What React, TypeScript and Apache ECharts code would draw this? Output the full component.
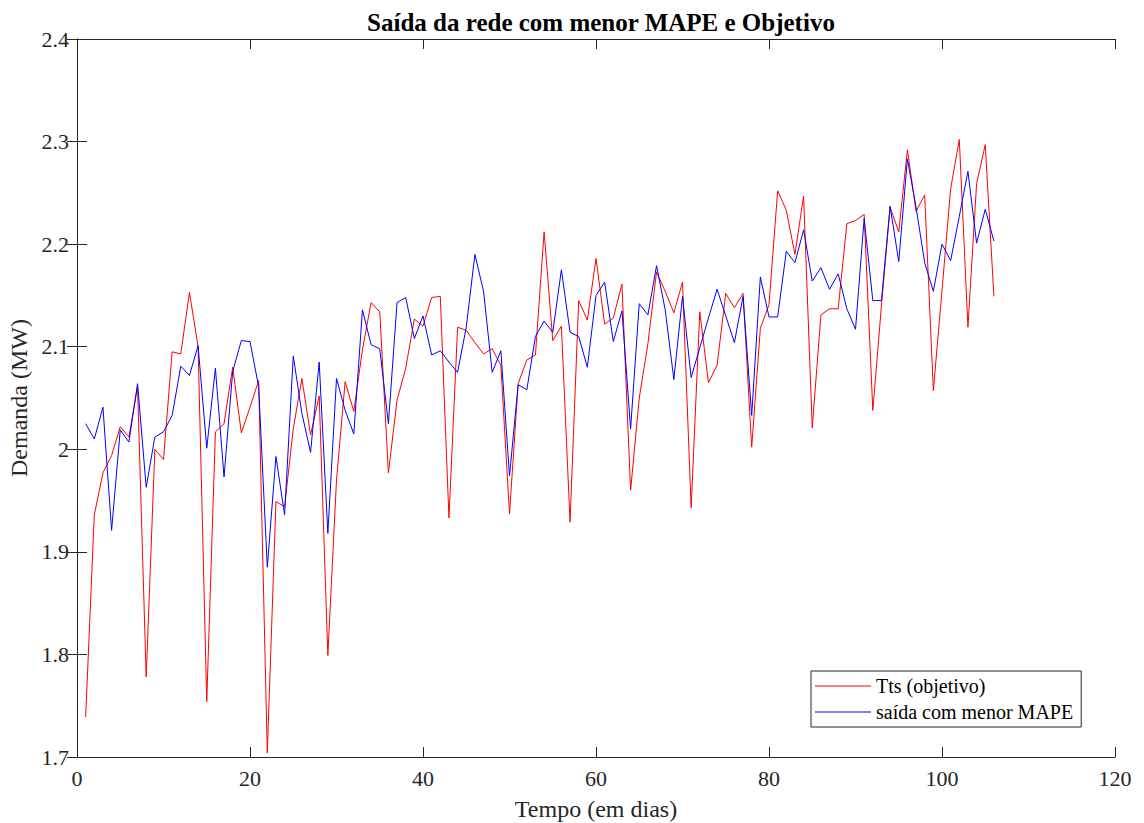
import React, { useEffect, useRef } from "react";
import * as echarts from "echarts";

const days: number[] = Array.from({ length: 106 }, (_, i) => i + 1);

const ttsObjetivo: number[] = [
  1.739, 1.936, 1.977, 1.994, 2.022, 2.012, 2.061, 1.778, 2.0, 1.99,
  2.095, 2.093, 2.153, 2.1, 1.754, 2.017, 2.025, 2.08, 2.016, 2.041,
  2.067, 1.704, 1.949, 1.944, 2.02, 2.069, 2.014, 2.052, 1.799, 1.97,
  2.066, 2.037, 2.097, 2.143, 2.134, 1.977, 2.048, 2.079, 2.127, 2.12,
  2.148, 2.149, 1.933, 2.119, 2.116, 2.104, 2.093, 2.098, 2.082, 1.937,
  2.064, 2.087, 2.092, 2.212, 2.106, 2.12, 1.929, 2.145, 2.126, 2.186,
  2.122, 2.128, 2.161, 1.96, 2.05, 2.103, 2.173, 2.154, 2.133, 2.163,
  1.943, 2.134, 2.065, 2.082, 2.152, 2.138, 2.152, 2.002, 2.118, 2.141,
  2.252, 2.233, 2.19, 2.247, 2.021, 2.131, 2.137, 2.137, 2.22, 2.223,
  2.229, 2.038, 2.14, 2.236, 2.212, 2.292, 2.232, 2.248, 2.057, 2.155,
  2.254, 2.302, 2.119, 2.259, 2.297, 2.149,
];

const saidaMenorMape: number[] = [
  2.025, 2.01, 2.041, 1.921, 2.019, 2.007, 2.064, 1.963, 2.012, 2.017,
  2.033, 2.081, 2.072, 2.101, 2.001, 2.079, 1.973, 2.076, 2.106, 2.105,
  2.061, 1.885, 1.993, 1.936, 2.091, 2.035, 1.997, 2.085, 1.918, 2.069,
  2.038, 2.015, 2.136, 2.102, 2.098, 2.025, 2.143, 2.148, 2.108, 2.13,
  2.092, 2.096, 2.085, 2.075, 2.119, 2.19, 2.154, 2.075, 2.096, 1.974,
  2.063, 2.058, 2.11, 2.125, 2.114, 2.175, 2.114, 2.11, 2.08, 2.15,
  2.163, 2.105, 2.135, 2.02, 2.142, 2.131, 2.179, 2.136, 2.068, 2.149,
  2.07, 2.099, 2.128, 2.156, 2.13, 2.104, 2.149, 2.033, 2.168, 2.129,
  2.129, 2.193, 2.182, 2.214, 2.164, 2.177, 2.156, 2.171, 2.137, 2.117,
  2.225, 2.145, 2.145, 2.237, 2.183, 2.283, 2.236, 2.182, 2.154, 2.2,
  2.184, 2.227, 2.271, 2.201, 2.234, 2.203,
];

const FONT = "'Liberation Serif', 'DejaVu Serif', serif";
const AXIS_COLOR = "#262626";

export default function App() {
  const ref = useRef<HTMLDivElement>(null);

  useEffect(() => {
    if (!ref.current) return;
    const chart = echarts.init(ref.current, undefined, { renderer: "svg" });

    const tickCommon = {
      axisLine: { show: true, lineStyle: { color: AXIS_COLOR, width: 1 } },
      axisTick: { show: true, inside: true, length: 10, lineStyle: { color: AXIS_COLOR } },
      splitLine: { show: false },
    };

    chart.setOption({
      animation: false,
      backgroundColor: "#ffffff",
      title: {
        text: "Saída da rede com menor MAPE e Objetivo",
        left: 596,
        top: 5,
        textAlign: "center",
        textStyle: { fontFamily: FONT, fontSize: 25, fontWeight: "bold", color: "#000" },
      },
      grid: {
        left: 77,
        right: 29,
        top: 39,
        bottom: 66,
        containLabel: false,
        outerBoundsMode: "none",
      },
      legend: {
        orient: "vertical",
        left: 811,
        top: 671,
        backgroundColor: "#fff",
        borderColor: AXIS_COLOR,
        borderWidth: 1,
        borderRadius: 0,
        padding: [4, 8, 4, 4],
        itemGap: 4,
        icon: "rect",
        itemWidth: 56,
        itemHeight: 1,
        textStyle: { fontFamily: FONT, fontSize: 20, color: "#000", height: 22, lineHeight: 22 },
        data: ["Tts (objetivo)", "saída com menor MAPE"],
      },
      xAxis: [
        {
          type: "value",
          min: 0,
          max: 120,
          interval: 20,
          position: "bottom",
          ...tickCommon,
          axisLabel: { fontFamily: FONT, fontSize: 22, color: "#262626", margin: 10 },
          name: "Tempo (em dias)",
          nameLocation: "middle",
          nameGap: 40,
          nameTextStyle: { fontFamily: FONT, fontSize: 24, color: "#262626" },
        },
        {
          type: "value",
          min: 0,
          max: 120,
          interval: 20,
          position: "top",
          ...tickCommon,
          axisLabel: { show: false },
        },
      ],
      yAxis: [
        {
          type: "value",
          min: 1.7,
          max: 2.4,
          interval: 0.1,
          position: "left",
          ...tickCommon,
          axisLabel: { fontFamily: FONT, fontSize: 22, color: "#262626", margin: 8 },
          name: "Demanda (MW)",
          nameLocation: "middle",
          nameGap: 44,
          nameTextStyle: { fontFamily: FONT, fontSize: 24, color: "#262626" },
        },
        {
          type: "value",
          min: 1.7,
          max: 2.4,
          interval: 0.1,
          position: "right",
          ...tickCommon,
          axisLabel: { show: false },
        },
      ],
      series: [
        {
          name: "Tts (objetivo)",
          type: "line",
          symbol: "none",
          lineStyle: { color: "#ff0000", width: 1 },
          itemStyle: { color: "#ff0000" },
          data: days.map((d, i) => [d, ttsObjetivo[i]]),
        },
        {
          name: "saída com menor MAPE",
          type: "line",
          symbol: "none",
          lineStyle: { color: "#0000ff", width: 1 },
          itemStyle: { color: "#0000ff" },
          data: days.map((d, i) => [d, saidaMenorMape[i]]),
        },
      ],
    });

    return () => chart.dispose();
  }, []);

  return (
    <div
      ref={ref}
      style={{ position: "fixed", left: 0, top: 0, width: 1144, height: 823 }}
    />
  );
}
